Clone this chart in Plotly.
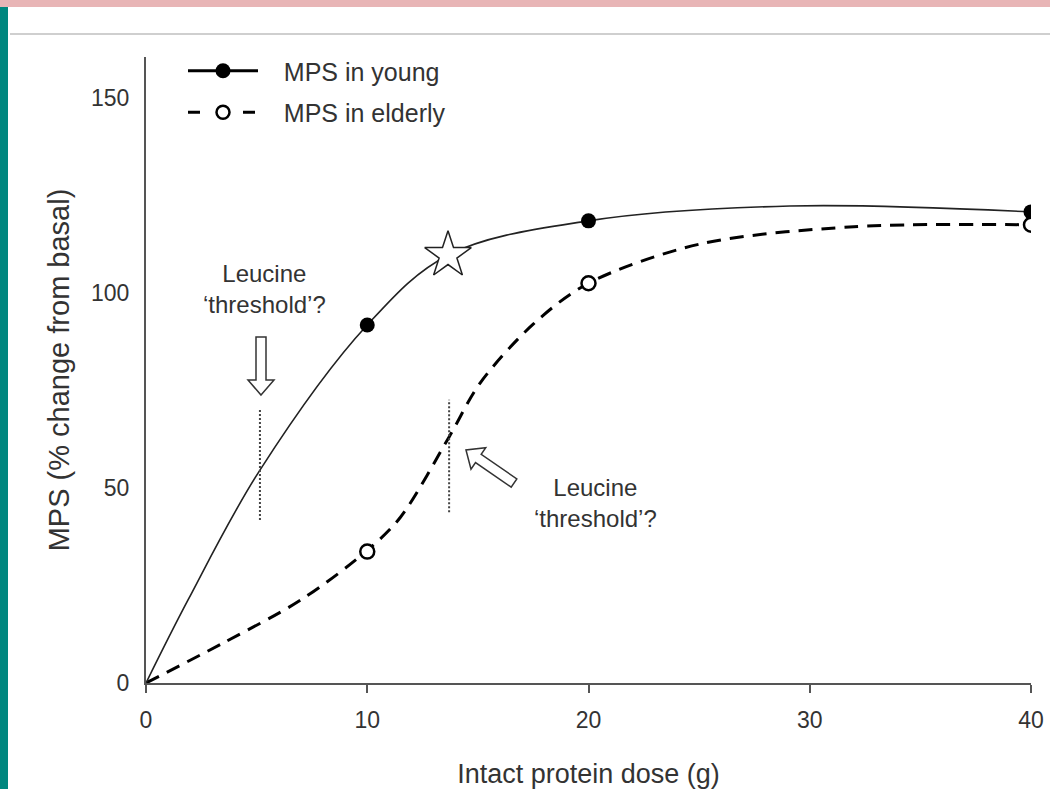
import plotly.graph_objects as go

# ---------------- data ----------------
young_dose = [10, 20, 40]
young_mps = [91.8, 118.5, 120.8]
elderly_dose = [10, 20, 40]
elderly_mps = [33.7, 102.5, 117.5]

young_curve_dose = [0, 1.9, 5.15, 10, 13.65, 20, 29.1, 40]
young_curve_mps = [0, 21.3, 54.6, 91.8, 109.7, 118.5, 122.3, 120.8]
elderly_curve_dose = [0, 3.5, 7.0, 10, 11.5, 13.7, 15.1, 17.5, 20, 25, 32, 40]
elderly_curve_mps = [0, 10.3, 21.3, 34.0, 42.5, 63.1, 76.9, 92.0, 102.5, 112.5, 117, 117.5]

star_dose = [13.65]
star_mps = [109.7]

threshold_dose = [5.15, 13.7]
threshold_low = [41.8, 43.8]
threshold_high = [70.5, 72.6]

x_ticks = [0, 10, 20, 30, 40]
y_ticks = [0, 50, 100, 150]
series_names = ["MPS in young", "MPS in elderly"]
threshold_label = "Leucine<br>‘threshold’?"
x_title = "Intact protein dose (g)"
y_title = "MPS (% change from basal)"

# ---------------- layout geometry ----------------
W, H = 1050, 789
L, R_PX, T, B_PX = 146, 1031, 57, 683
PX_PER_Y = 3.9
X_MAX = 40
Y_MAX = (B_PX - T) / PX_PER_Y

def px2x(px):
    return (px - L) / (R_PX - L) * X_MAX

def py2y(py):
    return (B_PX - py) / PX_PER_Y

def px2p(px):
    return (px - L) / (R_PX - L)

def py2p(py):
    return (B_PX - py) / (B_PX - T)

FONT = "Liberation Sans, Arial, Helvetica, sans-serif"
TXT = "#333333"
AX = "#555555"
NB = "\u00a0" * 3

fig = go.Figure()

# curves
fig.add_trace(go.Scatter(x=elderly_curve_dose, y=elderly_curve_mps, mode="lines",
                         line=dict(color="black", width=3, dash="14px,9px", shape="spline", smoothing=0.9),
                         showlegend=False, hoverinfo="skip"))
fig.add_trace(go.Scatter(x=young_curve_dose, y=young_curve_mps, mode="lines",
                         line=dict(color="#222222", width=1.6, shape="spline"),
                         showlegend=False, hoverinfo="skip"))

# threshold dotted lines
for xd, lo, hi in zip(threshold_dose, threshold_low, threshold_high):
    fig.add_trace(go.Scatter(x=[xd, xd], y=[lo, hi], mode="lines",
                             line=dict(color="#444444", width=2, dash="2px,2px"),
                             showlegend=False, hoverinfo="skip"))

# star
fig.add_trace(go.Scatter(x=star_dose, y=star_mps, mode="markers",
                         marker=dict(symbol="star", size=35, color="white",
                                     line=dict(color="#222222", width=1.5)),
                         showlegend=False, hoverinfo="skip"))

# markers
fig.add_trace(go.Scatter(x=young_dose, y=young_mps, mode="markers",
                         marker=dict(symbol="circle", size=15, color="black",
                                     line=dict(color="black", width=0)),
                         showlegend=False))
fig.add_trace(go.Scatter(x=elderly_dose, y=elderly_mps, mode="markers",
                         marker=dict(symbol="circle", size=14, color="white",
                                     line=dict(color="black", width=2.5)),
                         showlegend=False))

# legend-only traces
fig.add_trace(go.Scatter(x=[None], y=[None], mode="lines+markers", name=NB + series_names[0],
                         line=dict(color="black", width=3),
                         marker=dict(symbol="circle", size=15, color="black"),
                         legendgroup="a"))
fig.add_trace(go.Scatter(x=[None], y=[None], mode="lines+markers", name=NB + series_names[1],
                         line=dict(color="black", width=3, dash="12px,43px"),
                         marker=dict(symbol="circle", size=13, color="white",
                                     line=dict(color="black", width=2.5)),
                         legendgroup="b"))

# hollow block arrows (pixel geometry converted to data coords)
def path_from_px(points):
    return "M " + " L ".join(f"{px2x(px):.4f},{py2y(py):.4f}" for px, py in points) + " Z"

def arrow_pts(tip, tail, head_len=15, head_hw=13, shaft_hw=5):
    tx, ty = tip
    ex, ey = tail
    dx, dy = ex - tx, ey - ty
    ln = (dx * dx + dy * dy) ** 0.5
    ux, uy = dx / ln, dy / ln
    nx, ny = -uy, ux
    bx, by = tx + head_len * ux, ty + head_len * uy
    return [
        (tx, ty),
        (bx + head_hw * nx, by + head_hw * ny),
        (bx + shaft_hw * nx, by + shaft_hw * ny),
        (ex + shaft_hw * nx, ey + shaft_hw * ny),
        (ex - shaft_hw * nx, ey - shaft_hw * ny),
        (bx - shaft_hw * nx, by - shaft_hw * ny),
        (bx - head_hw * nx, by - head_hw * ny),
    ]

shapes = []
for tip, tail in [((261, 395), (261, 337)), ((466, 450), (514, 483))]:
    shapes.append(dict(type="path", xref="x", yref="y",
                       path=path_from_px(arrow_pts(tip, tail)),
                       fillcolor="white", line=dict(color="#333333", width=1.5), layer="above"))

# page decoration
shapes.append(dict(type="rect", xref="paper", yref="paper",
                   x0=px2p(0), x1=px2p(W), y0=py2p(7), y1=py2p(0),
                   fillcolor="#e8b5b6", line=dict(width=0), layer="below"))
shapes.append(dict(type="rect", xref="paper", yref="paper",
                   x0=px2p(0), x1=px2p(8), y0=py2p(H), y1=py2p(7),
                   fillcolor="#00877f", line=dict(width=0), layer="below"))
shapes.append(dict(type="line", xref="paper", yref="paper",
                   x0=px2p(10), x1=px2p(W), y0=py2p(34), y1=py2p(34),
                   line=dict(color="#cfcfcf", width=2), layer="below"))

annotations = [
    dict(x=px2x(264), y=py2y(289), xref="x", yref="y", text=threshold_label,
         showarrow=False, font=dict(family=FONT, size=24, color=TXT), align="center"),
    dict(x=px2x(595), y=py2y(503), xref="x", yref="y", text=threshold_label,
         showarrow=False, font=dict(family=FONT, size=24, color=TXT), align="center"),
]

fig.update_layout(
    width=W, height=H,
    margin=dict(l=L, r=W - R_PX, t=T, b=H - B_PX, autoexpand=False),
    paper_bgcolor="white", plot_bgcolor="white",
    font=dict(family=FONT, color=TXT),
    shapes=shapes, annotations=annotations,
    showlegend=True,
    legend=dict(x=px2p(183), y=py2p(48), xanchor="left", yanchor="top",
                bgcolor="rgba(0,0,0,0)", font=dict(family=FONT, size=25, color=TXT),
                itemwidth=70, traceorder="grouped", tracegroupgap=6),
    xaxis=dict(range=[0, X_MAX], tickvals=x_ticks, showgrid=False, zeroline=False,
               showline=True, linecolor=AX, linewidth=2, ticks="outside", ticklen=8,
               tickwidth=2, tickcolor=AX, tickfont=dict(size=23, color=TXT),
               ticklabelstandoff=7,
               title=dict(text=x_title, font=dict(size=27, color=TXT), standoff=36)),
    yaxis=dict(range=[0, Y_MAX], tickvals=y_ticks, showgrid=False, zeroline=False,
               showline=True, linecolor=AX, linewidth=2, ticks="",
               tickfont=dict(size=23, color=TXT), ticklabelstandoff=10,
               title=dict(text=y_title, font=dict(size=29, color=TXT), standoff=13)),
)

fig.write_html("out.html",
               config={"displayModeBar": False},
               post_script="document.documentElement.style.margin='0';"
                           "document.body.style.margin='0';document.body.style.padding='0';"
                           "document.body.style.overflow='hidden';")
